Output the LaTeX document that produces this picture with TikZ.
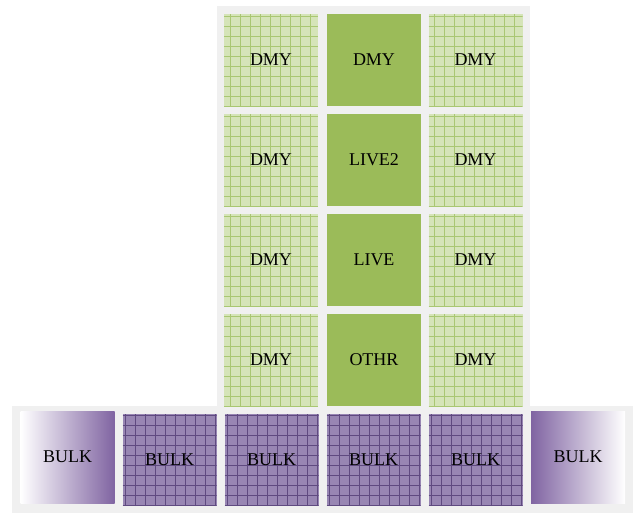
\documentclass[tikz,border=0pt]{standalone}
\usepackage{fontspec}
\setmainfont{Liberation Serif}
\usetikzlibrary{positioning}

\definecolor{livegreen}{HTML}{9BBB59}
\definecolor{dmyfill}{HTML}{D5E4B8}
\definecolor{dmyline}{HTML}{A9C772}
\definecolor{bulkpurple}{HTML}{8064A2}
\definecolor{bulkfill}{HTML}{9886B3}
\definecolor{bulkline}{HTML}{5F4A80}
\definecolor{panelgray}{HTML}{F0F0F0}

\begin{document}
\begin{tikzpicture}[x=1pt, y=-1pt, font=\fontsize{18}{20}\selectfont,
cell/.style={minimum width=94pt, minimum height=92pt, inner sep=0pt},
dmy/.style={cell, fill=dmyfill, path picture={\draw[dmyline, line width=0.7pt, step=10pt]
  (path picture bounding box.south west) grid (path picture bounding box.north east);}},
live/.style={cell, fill=livegreen},
bulk/.style={cell, fill=bulkfill, path picture={\draw[bulkline, line width=0.7pt, step=10pt]
  (path picture bounding box.south west) grid (path picture bounding box.north east);}},
bulkL/.style={cell, left color=white, right color=bulkpurple},
bulkR/.style={cell, left color=bulkpurple, right color=white},
panel/.style={fill=panelgray, draw=none}]
  \useasboundingbox (0,0) rectangle (641,517);
  \fill[panel] (217,6) rectangle (530,410);
  \fill[panel] (12,406) rectangle (633,513);
  \node[dmy] (D11) at (271,60) {DMY};
  \node[live] (D12) at (374,60) {DMY};
  \node[dmy] (D13) at (475.5,60) {DMY};
  \node[dmy] (D21) at (271,160) {DMY};
  \node[live] (LIVE2) at (374,160) {LIVE2};
  \node[dmy] (D23) at (475.5,160) {DMY};
  \node[dmy] (D31) at (271,260) {DMY};
  \node[live] (LIVE) at (374,260) {LIVE};
  \node[dmy] (D33) at (475.5,260) {DMY};
  \node[dmy] (D41) at (271,360) {DMY};
  \node[live] (OTHR) at (374,360) {OTHR};
  \node[dmy] (D43) at (475.5,360) {DMY};
  \node[bulkL] (B1) at (67.5,457) {BULK};
  \node[bulk] (B2) at (169.5,460) {BULK};
  \node[bulk] (B3) at (271.5,460) {BULK};
  \node[bulk] (B4) at (373.5,460) {BULK};
  \node[bulk] (B5) at (475.5,460) {BULK};
  \node[bulkR] (B6) at (578,457) {BULK};
\end{tikzpicture}
\end{document}
